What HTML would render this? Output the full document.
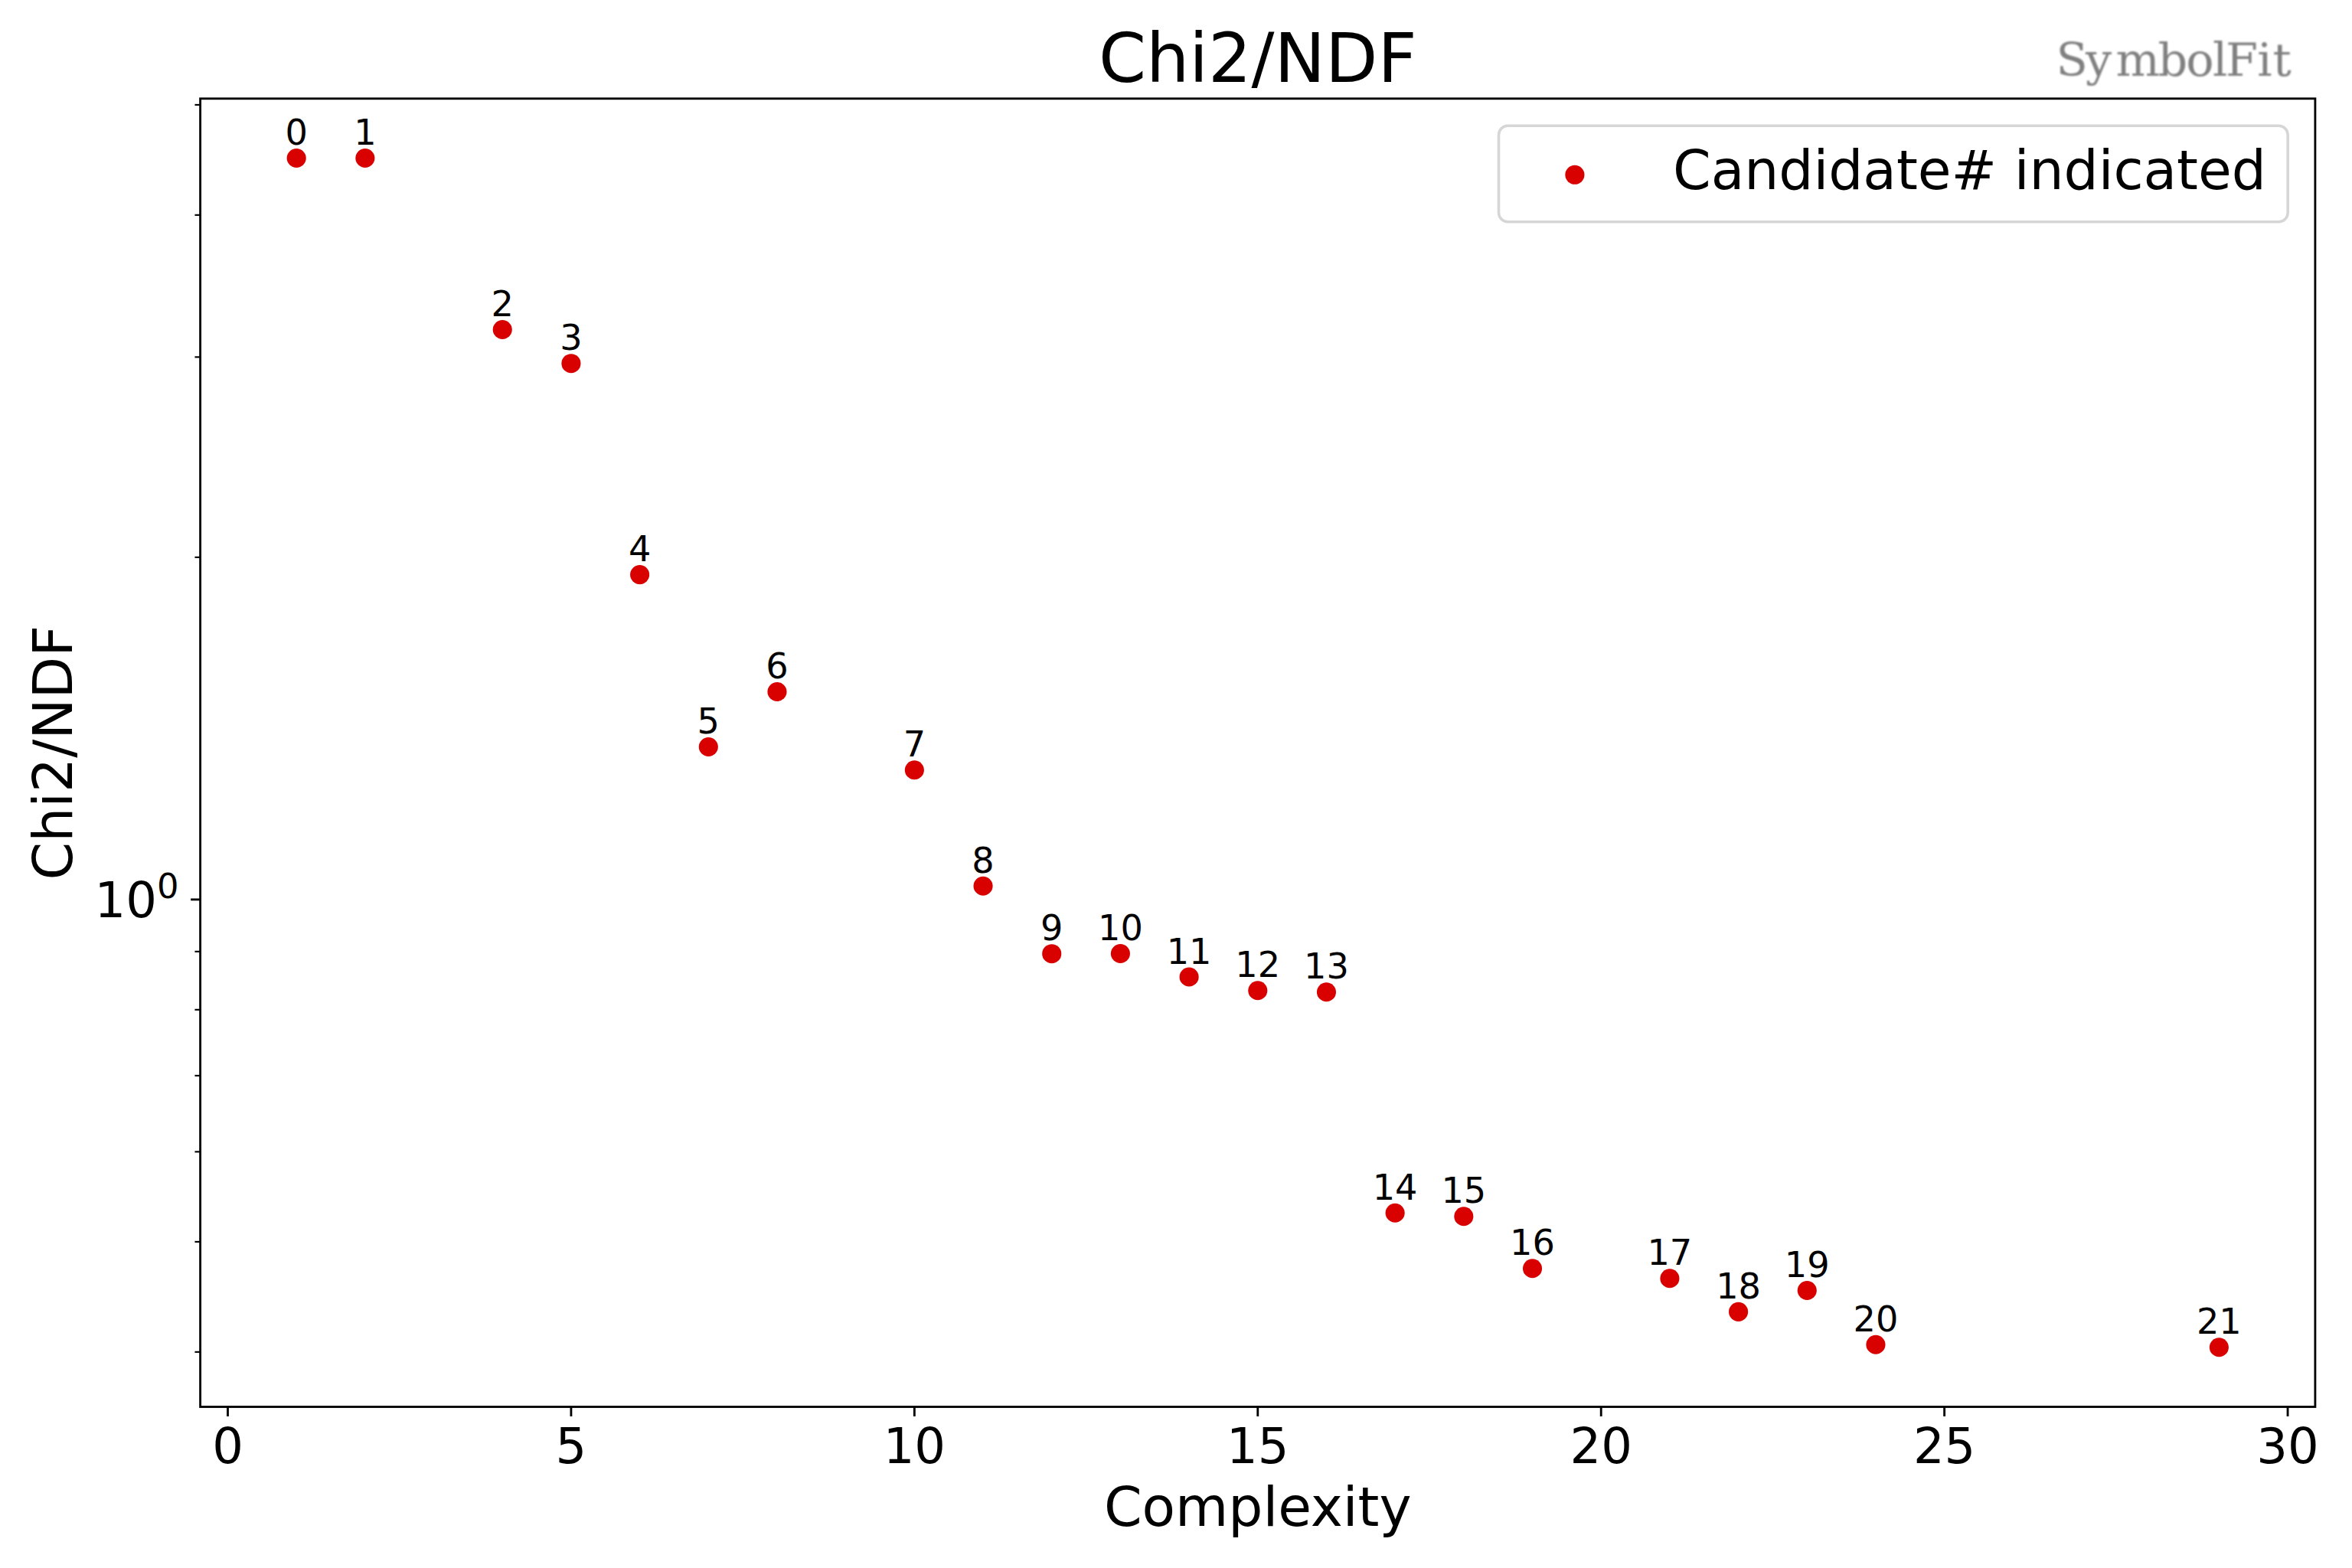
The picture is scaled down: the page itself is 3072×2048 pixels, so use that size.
<!DOCTYPE html>
<html lang="en">
<head>
<meta charset="utf-8">
<title>Chi2/NDF</title>
<style>
html,body{margin:0;padding:0;background:#fff;}
body{width:3072px;height:2048px;overflow:hidden;}
svg{display:block;}
text{font-family:"DejaVu Sans","Liberation Sans",sans-serif;fill:#000;}
.tick{font-size:64px;}
.lab{font-size:71.11px;}
.ann{font-size:46.22px;text-anchor:middle;}
.logo{font-family:"DejaVu Serif","Liberation Serif",serif;fill:#808080;}
</style>
</head>
<body>
<svg width="3072" height="2048" viewBox="0 0 3072 2048">
<rect x="0" y="0" width="3072" height="2048" fill="#ffffff"/>
<text x="1642.75" y="107.4" text-anchor="middle" style="font-size:88.89px">Chi2/NDF</text>
<defs><filter id="soft" x="-5%" y="-20%" width="110%" height="140%"><feGaussianBlur stdDeviation="0.9"/></filter></defs>
<text class="logo" filter="url(#soft)" x="2685.5 2723.9 2763.5 2818.6 2855.3 2889.9 2907.0 2948.3 2968.4" y="98.9" style="font-size:60.5px">SymbolFit</text>
<g stroke="#000" stroke-width="2.84" fill="none">
<line x1="297.50" y1="1837.50" x2="297.50" y2="1849.94"/>
<line x1="745.92" y1="1837.50" x2="745.92" y2="1849.94"/>
<line x1="1194.35" y1="1837.50" x2="1194.35" y2="1849.94"/>
<line x1="1642.78" y1="1837.50" x2="1642.78" y2="1849.94"/>
<line x1="2091.20" y1="1837.50" x2="2091.20" y2="1849.94"/>
<line x1="2539.62" y1="1837.50" x2="2539.62" y2="1849.94"/>
<line x1="2988.05" y1="1837.50" x2="2988.05" y2="1849.94"/>
<line x1="261.60" y1="1174.90" x2="249.16" y2="1174.90"/>
</g>
<g stroke="#000" stroke-width="2.13" fill="none">
<line x1="261.60" y1="136.93" x2="254.49" y2="136.93"/>
<line x1="261.60" y1="280.84" x2="254.49" y2="280.84"/>
<line x1="261.60" y1="466.37" x2="254.49" y2="466.37"/>
<line x1="261.60" y1="727.87" x2="254.49" y2="727.87"/>
<line x1="261.60" y1="1242.85" x2="254.49" y2="1242.85"/>
<line x1="261.60" y1="1318.81" x2="254.49" y2="1318.81"/>
<line x1="261.60" y1="1404.93" x2="254.49" y2="1404.93"/>
<line x1="261.60" y1="1504.35" x2="254.49" y2="1504.35"/>
<line x1="261.60" y1="1621.93" x2="254.49" y2="1621.93"/>
<line x1="261.60" y1="1765.84" x2="254.49" y2="1765.84"/>
</g>
<g class="tick" text-anchor="middle">
<text x="297.50" y="1911">0</text>
<text x="745.92" y="1911">5</text>
<text x="1194.35" y="1911">10</text>
<text x="1642.78" y="1911">15</text>
<text x="2091.20" y="1911">20</text>
<text x="2539.62" y="1911">25</text>
<text x="2988.05" y="1911">30</text>
</g>
<text class="tick" x="123.5" y="1197.6">10<tspan dx="0" dy="-24.4" style="font-size:44.8px">0</tspan></text>
<text class="lab" x="1642.75" y="1992.6" text-anchor="middle">Complexity</text>
<text class="lab" transform="translate(94.3 983.15) rotate(-90)" text-anchor="middle">Chi2/NDF</text>
<g fill="#d90000">
<circle cx="387.19" cy="206.50" r="12.55"/>
<circle cx="476.87" cy="206.50" r="12.55"/>
<circle cx="656.24" cy="430.50" r="12.55"/>
<circle cx="745.92" cy="474.70" r="12.55"/>
<circle cx="835.61" cy="750.60" r="12.55"/>
<circle cx="925.30" cy="975.50" r="12.55"/>
<circle cx="1014.98" cy="903.50" r="12.55"/>
<circle cx="1194.35" cy="1005.75" r="12.55"/>
<circle cx="1284.04" cy="1157.25" r="12.55"/>
<circle cx="1373.72" cy="1245.70" r="12.55"/>
<circle cx="1463.40" cy="1245.50" r="12.55"/>
<circle cx="1553.09" cy="1276.00" r="12.55"/>
<circle cx="1642.78" cy="1293.75" r="12.55"/>
<circle cx="1732.46" cy="1295.75" r="12.55"/>
<circle cx="1822.14" cy="1584.25" r="12.55"/>
<circle cx="1911.83" cy="1588.75" r="12.55"/>
<circle cx="2001.52" cy="1656.75" r="12.55"/>
<circle cx="2180.89" cy="1669.75" r="12.55"/>
<circle cx="2270.57" cy="1713.40" r="12.55"/>
<circle cx="2360.26" cy="1685.50" r="12.55"/>
<circle cx="2449.94" cy="1756.25" r="12.55"/>
<circle cx="2898.37" cy="1759.75" r="12.55"/>
</g>
<g class="ann">
<text x="387.19" y="189.10">0</text>
<text x="476.87" y="189.10">1</text>
<text x="656.24" y="413.10">2</text>
<text x="745.92" y="457.30">3</text>
<text x="835.61" y="733.20">4</text>
<text x="925.30" y="958.10">5</text>
<text x="1014.98" y="886.10">6</text>
<text x="1194.35" y="988.35">7</text>
<text x="1284.04" y="1139.85">8</text>
<text x="1373.72" y="1228.30">9</text>
<text x="1463.40" y="1228.10">10</text>
<text x="1553.09" y="1258.60">11</text>
<text x="1642.78" y="1276.35">12</text>
<text x="1732.46" y="1278.35">13</text>
<text x="1822.14" y="1566.85">14</text>
<text x="1911.83" y="1571.35">15</text>
<text x="2001.52" y="1639.35">16</text>
<text x="2180.89" y="1652.35">17</text>
<text x="2270.57" y="1696.00">18</text>
<text x="2360.26" y="1668.10">19</text>
<text x="2449.94" y="1738.85">20</text>
<text x="2898.37" y="1742.35">21</text>
</g>
<rect x="261.60" y="128.80" width="2762.30" height="1708.70" fill="none" stroke="#000" stroke-width="2.84"/>
<rect x="1957.5" y="164.3" width="1030.70" height="125.50" rx="12" ry="12" fill="#ffffff" fill-opacity="0.8" stroke="#cccccc" stroke-opacity="0.8" stroke-width="3.56"/>
<circle cx="2056.9" cy="228.3" r="12.55" fill="#d90000"/>
<text class="lab" x="2185" y="247.4">Candidate# indicated</text>
</svg>
</body>
</html>
